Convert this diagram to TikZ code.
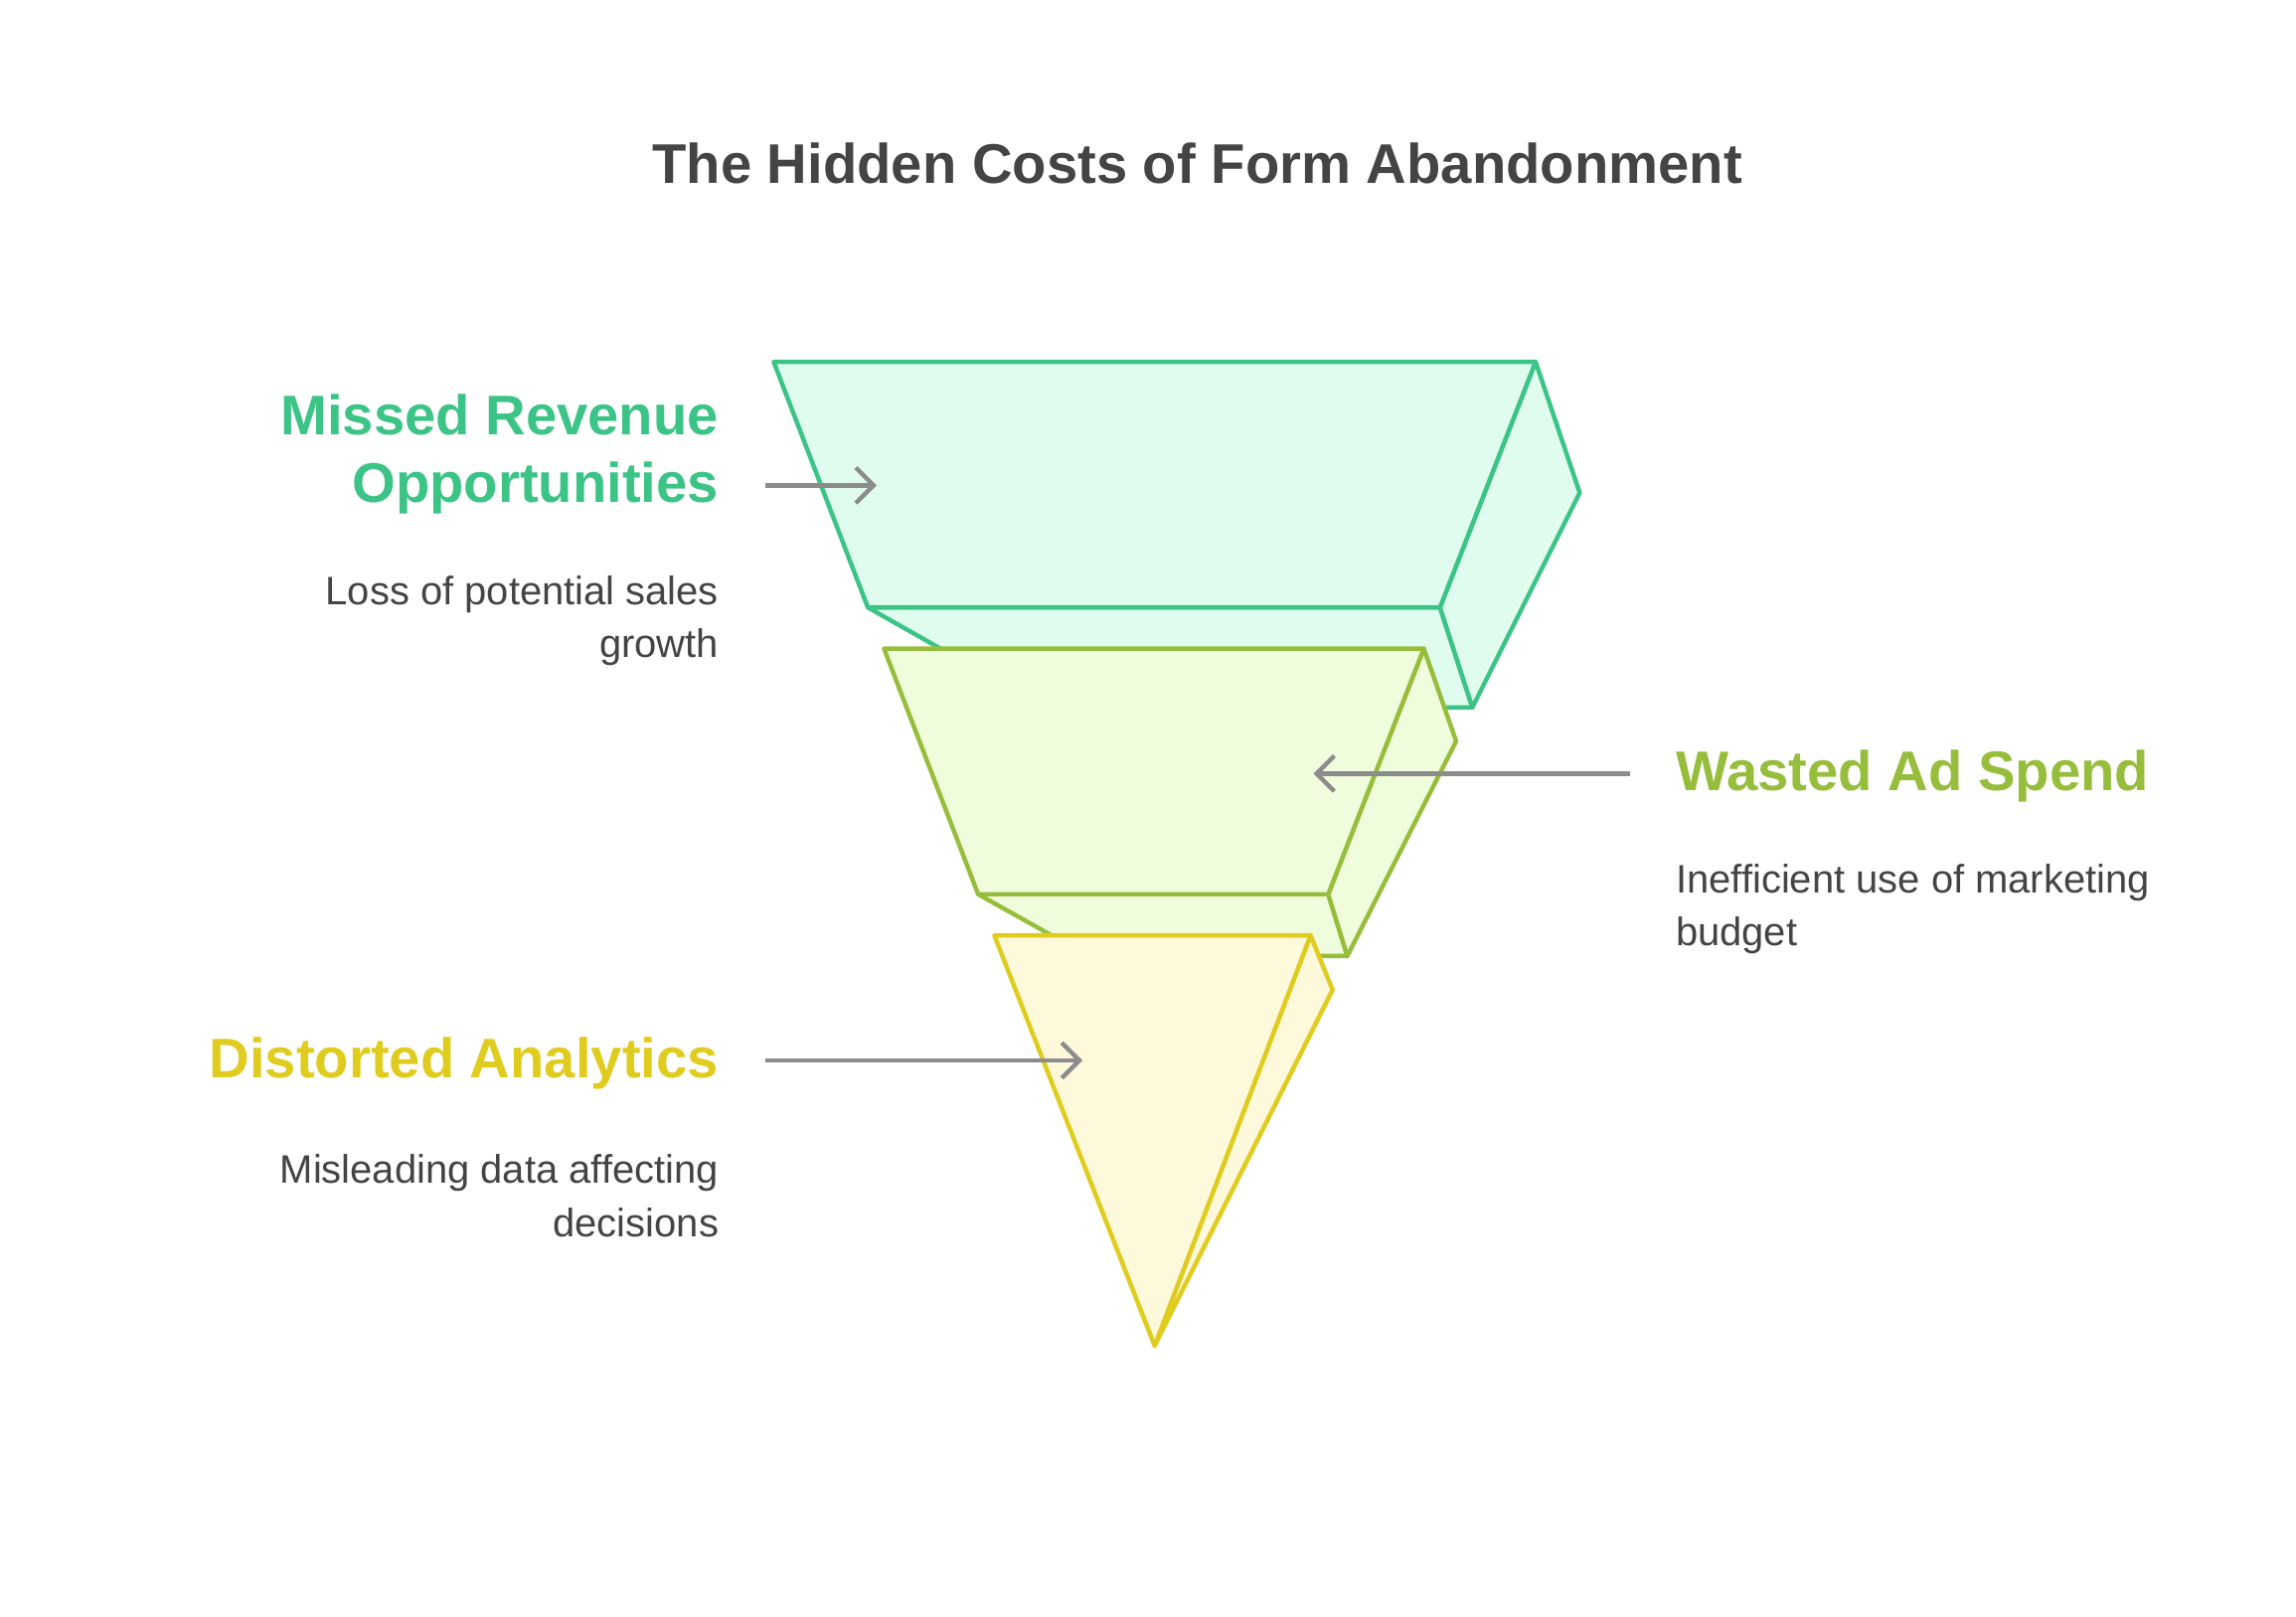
\documentclass[tikz,border=0pt]{standalone}
\usepackage{fontspec}
\setmainfont{Liberation Sans}
\usetikzlibrary{arrows.meta}
\definecolor{gS}{HTML}{3CC486}\definecolor{gF}{HTML}{E0FCEF}
\definecolor{lS}{HTML}{96BE3C}\definecolor{lF}{HTML}{F0FDDC}
\definecolor{yS}{HTML}{E0CC1E}\definecolor{yF}{HTML}{FFF9DC}
\definecolor{tx}{HTML}{444444}\definecolor{ar}{HTML}{8C8C8C}
\tikzset{face/.style={line width=1.5pt,line join=round},
 conn/.style={draw=ar,line width=1.5pt,-{Straight Barb[length=6pt,width=12pt]}},
 head/.style={font=\fontsize{19}{23}\selectfont\bfseries,align=right,inner sep=0},
 body/.style={font=\fontsize{13.5}{18}\selectfont,text=tx,align=right,inner sep=0}}
\begin{document}
\begin{tikzpicture}[x=0.5pt,y=-0.5pt]
\useasboundingbox (0,0) rectangle (1561,1099);
\node[font=\fontsize{19}{23}\selectfont\bfseries,text=tx] (title) at (814,111) {The Hidden Costs of Form Abandonment};
% top
\draw[face,draw=gS,fill=gF] (590,413)--(979,413)--(1001,481)--(710,481)--cycle;
\draw[face,draw=gS,fill=gF] (1044,246)--(1074,335)--(1001,481)--(979,413)--cycle;
\draw[face,draw=gS,fill=gF] (526,246)--(1044,246)--(979,413)--(590,413)--cycle;
% middle
\draw[face,draw=lS,fill=lF] (665,608)--(903,608)--(916,650)--(740,650)--cycle;
\draw[face,draw=lS,fill=lF] (968,441)--(990,504)--(916,650)--(903,608)--cycle;
\draw[face,draw=lS,fill=lF] (601,441)--(968,441)--(903,608)--(665,608)--cycle;
% bottom
\draw[face,draw=yS,fill=yF] (891,636)--(906,673)--(785,915)--cycle;
\draw[face,draw=yS,fill=yF] (676,636)--(891,636)--(785,915)--cycle;
\coordinate (a1) at (520,330);\coordinate (b1) at (596,330);
\coordinate (a2) at (1108,526);\coordinate (b2) at (893,526);
\coordinate (a3) at (520,721);\coordinate (b3) at (736,721);
\draw[conn] (a1)--(b1);\draw[conn] (a2)--(b2);\draw[conn] (a3)--(b3);
\node[head,text=gS,anchor=east] (h1) at (489,309) {Missed Revenue\\Opportunities};
\node[body,anchor=east] (d1) at (489,422) {Loss of potential sales\\growth};
\node[head,text=lS,anchor=west,align=left] (h2) at (1139,528) {Wasted Ad Spend};
\node[body,anchor=west,align=left] (d2) at (1139,618) {Inefficient use of marketing\\budget};
\node[head,text=yS,anchor=east] (h3) at (489,723) {Distorted Analytics};
\node[body,anchor=east] (d3) at (489,813) {Misleading data affecting\\decisions};
\end{tikzpicture}
\end{document}
